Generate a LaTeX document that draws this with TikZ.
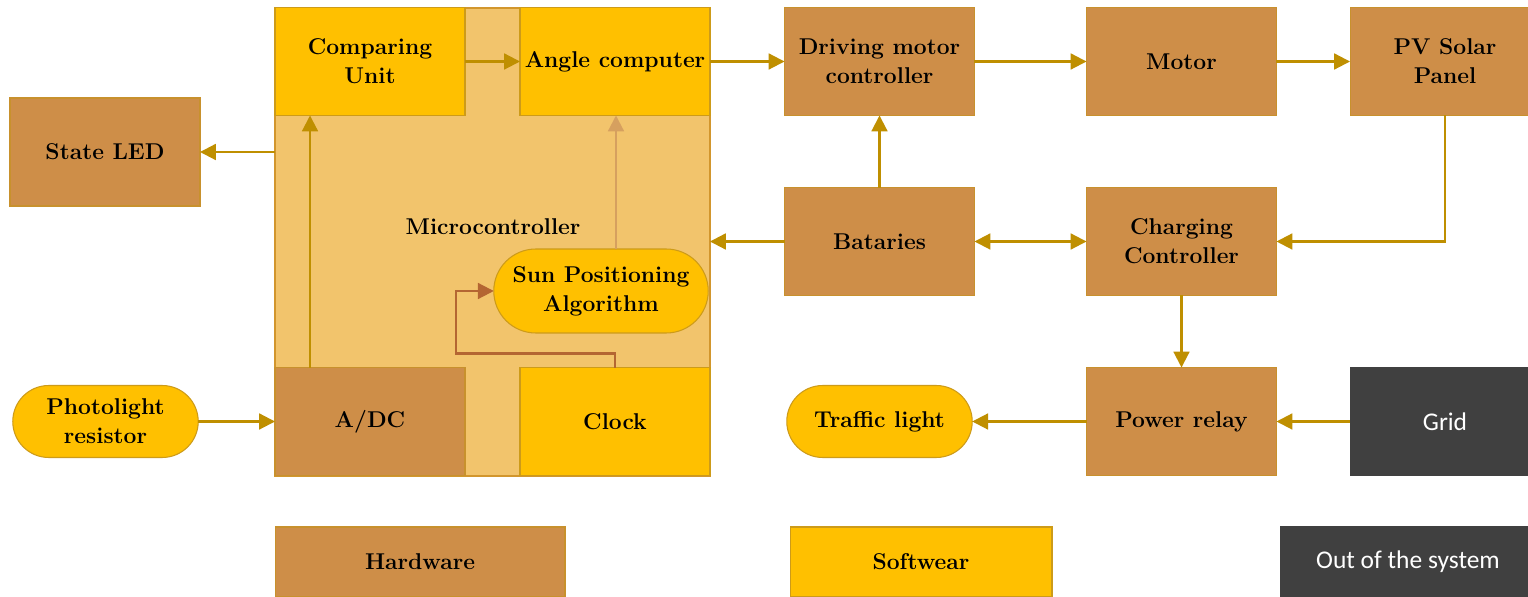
\documentclass[tikz,border=0pt]{standalone}
\usepackage{fontspec}
\newfontfamily\legendsans{Carlito}
\usetikzlibrary{arrows.meta,shapes.misc}
\definecolor{hwfill}{RGB}{206,142,72}
\definecolor{hwline}{RGB}{200,145,45}
\definecolor{swfill}{RGB}{255,192,0}
\definecolor{swline}{RGB}{205,155,25}
\definecolor{mcfill}{RGB}{242,196,108}
\definecolor{mcline}{RGB}{210,150,45}
\definecolor{outfill}{RGB}{64,64,64}
\definecolor{arrcol}{RGB}{191,143,0}
\definecolor{clkarr}{RGB}{180,102,50}
\definecolor{sunarr}{RGB}{214,160,95}
\tikzset{
  x=0.02cm, y=-0.02cm,
  lbl/.style={font=\fontsize{13}{16.5}\selectfont\bfseries, align=center, text=black},
  blk/.style={lbl, rectangle, minimum width=3.8cm, minimum height=2.16cm, inner sep=1pt, outer sep=0pt, line width=0.6pt},
  hw/.style={blk, fill=hwfill, draw=hwline},
  sw/.style={blk, fill=swfill, draw=swline},
  outbox/.style={blk, fill=outfill, draw=outfill, text=white, font=\legendsans\fontsize{14.5}{17}\selectfont},
  pill/.style={lbl, rounded rectangle, fill=swfill, draw=swline, line width=0.6pt, inner sep=1pt, outer sep=0pt},
  arr/.style={draw=arrcol, line width=1.2pt, -{Triangle[length=9pt,width=9pt]}},
}
\begin{document}
\begin{tikzpicture}
\useasboundingbox (0,0) rectangle (1528,597);
\clip (0,0) rectangle (1528,597);
\fill[white] (0,0) rectangle (1528,597);

% microcontroller enclosure and its inner units
\node[rectangle, fill=mcfill, draw=mcline, line width=0.8pt, minimum width=8.7cm, minimum height=9.36cm, outer sep=0pt] (mc) at (492.5,242) {};
\node[lbl] (mclabel) at (493,227) {Microcontroller};
\node[sw] (cmp) at (370,61.5) {Comparing\\Unit};
\node[sw] (ang) at (615,61.5) {Angle computer};
\node[hw] (adc) at (370,421.5) {A/DC};
\node[sw] (clk) at (615,421.5) {Clock};
\node[pill, minimum width=4.36cm, minimum height=1.68cm] (sun) at (601,291) {Sun Positioning\\Algorithm};

% outside blocks
\node[hw] (led) at (105,152) {State LED};
\node[pill, minimum width=3.78cm, minimum height=1.44cm] (photo) at (105.5,421.5) {Photolight\\resistor};
\node[hw] (drv) at (879.5,61.5) {Driving motor\\controller};
\node[hw] (mot) at (1181.5,61.5) {Motor};
\node[hw] (pv) at (1445,61.5) {PV Solar\\Panel};
\node[hw] (bat) at (879.5,241.5) {Bataries};
\node[hw] (chg) at (1181.5,241.5) {Charging\\Controller};
\node[hw] (rly) at (1181.5,421.5) {Power relay};
\node[outbox] (grid) at (1445,421.5) {Grid};
\node[pill, minimum width=3.78cm, minimum height=1.44cm] (tl) at (879.5,421.5) {Traffic light};

% legend
\node[hw, minimum width=5.8cm, minimum height=1.4cm] (lhw) at (420,562) {Hardware};
\node[sw, minimum width=5.24cm, minimum height=1.4cm] (lsw) at (921,562) {Softwear};
\node[outbox, minimum width=5.12cm, minimum height=1.4cm] (lout) at (1408,562) {Out of the system};

% connectors
\coordinate (mcin) at (mc.east |- bat.west);
\coordinate (mcout) at (mc.west |- led.east);
\coordinate (adcTop) at ([xshift=-1.2cm]adc.north);
\coordinate (sunTop) at ([xshift=0.3cm]sun.north);
\coordinate (clkBend) at (456,291);
\draw[arr] (cmp.east |- ang.west) -- (ang.west);
\draw[arr] (ang.east) -- (drv.west);
\draw[arr] (drv.east) -- (mot.west);
\draw[arr] (mot.east) -- (pv.west);
\draw[arr] (pv.south) |- (chg.east);
\draw[arr, {Triangle[length=9pt,width=9pt]}-{Triangle[length=9pt,width=9pt]}] (bat.east) -- (chg.west);
\draw[arr] (bat.north) -- (drv.south);
\draw[arr] (bat.west) -- (mcin);
\draw[arr] (mcout) -- (led.east);
\draw[arr] (photo.east) -- (photo.east -| adc.west);
\draw[arr] (adcTop) -- (adcTop |- cmp.south);
\draw[arr, draw=sunarr] (sunTop) -- (sunTop |- ang.south);
\draw[arr, draw=clkarr] (clk.north) -- ++(0,-14) -| (clkBend) -- (sun.west);
\draw[arr] (chg.south) -- (rly.north);
\draw[arr] (rly.west) -- (tl.east);
\draw[arr] (grid.west) -- (rly.east);
\end{tikzpicture}
\end{document}
